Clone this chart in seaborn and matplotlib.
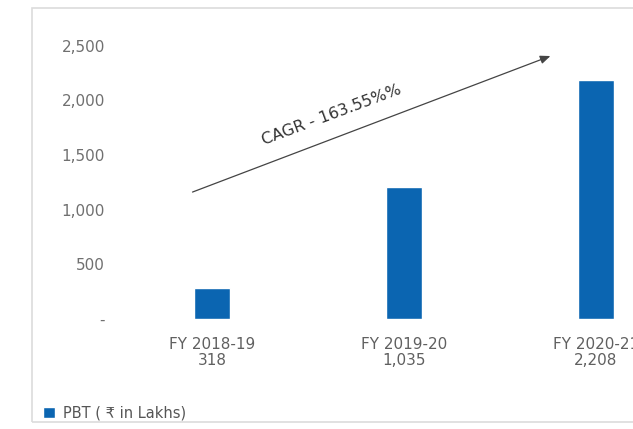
import matplotlib
matplotlib.use("Agg")
import matplotlib.pyplot as plt
import seaborn as sns
import pandas as pd
from matplotlib.patches import Rectangle

# ---- data ----
years = ["FY 2018-19", "FY 2019-20", "FY 2020-21"]
pbt_labels = ["318", "1,035", "2,208"]
bar_heights = [279, 1202, 2189]          # bar heights as drawn in the picture
y_ticks = [0, 500, 1000, 1500, 2000, 2500]
y_tick_labels = ["-", "500", "1,000", "1,500", "2,000", "2,500"]
series_name = "PBT ( \u20b9 in Lakhs)"
cagr_text = "CAGR - 163.55%%"

sns.set_style("white")
plt.rcParams["font.family"] = ["DejaVu Sans"]

W, H = 633, 429
fig = plt.figure(figsize=(W / 100, H / 100), dpi=100)
left_px, right_px, top_px, bot_px = 116, 633, 35, 318.5
ax = fig.add_axes([left_px / W, (H - bot_px) / H, (right_px - left_px) / W, (bot_px - top_px) / H])

df = pd.DataFrame({"year": years, "value": bar_heights})
sns.barplot(data=df, x="year", y="value", color="#0B65B1", width=0.185,
            saturation=1, ax=ax, label=series_name)

ax.set_xlim(-0.5, -0.5 + (right_px - left_px) / 192)
ax.set_ylim(0, 2500 * (bot_px - top_px) / (bot_px - 46))
for s in ax.spines.values():
    s.set_visible(False)
ax.set_xlabel("")
ax.set_ylabel("")
ax.set_yticks(y_ticks)
ax.set_yticklabels(y_tick_labels)
ax.set_xticks(range(len(years)))
ax.set_xticklabels([f"{y}\n{v}" for y, v in zip(years, pbt_labels)], linespacing=1.12)
ax.tick_params(axis="y", length=0, pad=8, labelsize=11, labelcolor="#707070")
ax.tick_params(axis="x", length=0, pad=13, labelsize=11, labelcolor="#606060")

# CAGR arrow
ax.annotate("", xy=(1.776, 2417), xytext=(-0.115, 1151), xycoords="data",
            arrowprops=dict(arrowstyle="-|>,head_length=0.6,head_width=0.25",
                            color="#444444", lw=0.9))
ax.text(0.635, 1800, cagr_text, rotation=20.5, rotation_mode="anchor",
        ha="center", va="bottom", fontsize=11.5, color="#333333",
        transform=ax.transData)

# outer frame
fig.patches.append(Rectangle((32 / W, (H - 422) / H), 1.0, (422 - 8) / H,
                             transform=fig.transFigure, fill=False,
                             edgecolor="#dcdcdc", lw=1.2))

# legend
handles, labels = ax.get_legend_handles_labels()
fig.legend(handles, labels, loc="center left", bbox_to_anchor=(43 / W, (H - 413) / H),
           frameon=False, handlelength=0.85, handleheight=0.85, handletextpad=0.55,
           fontsize=10.5, labelcolor="#555555", borderaxespad=0, borderpad=0)
if ax.get_legend() is not None:
    ax.get_legend().remove()

fig.savefig("out.png", dpi=100)
